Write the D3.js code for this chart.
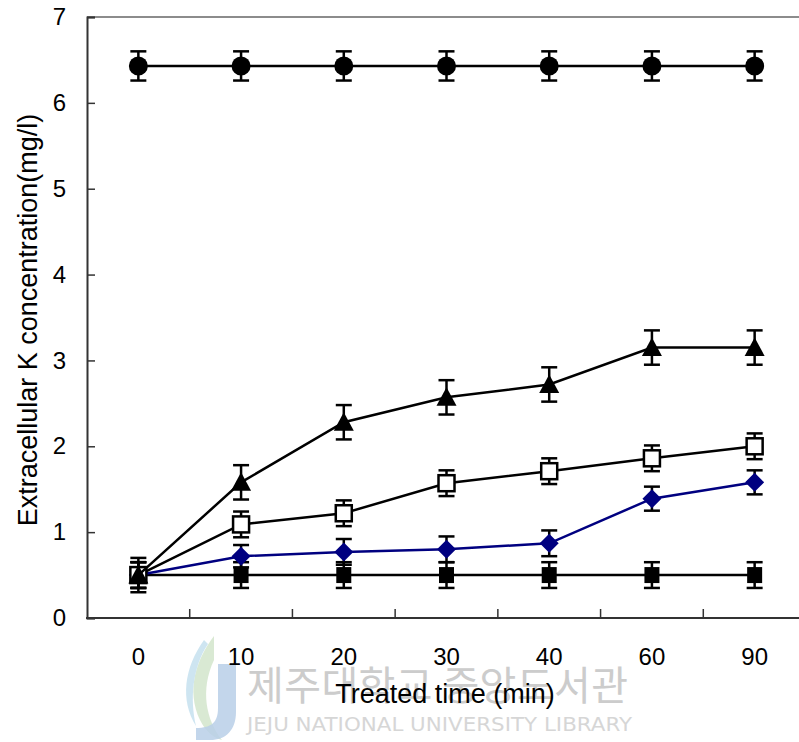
<!DOCTYPE html>
<html>
<head>
<meta charset="utf-8">
<script src="https://cdn.jsdelivr.net/npm/d3@7"></script>
<style>
  html, body { margin: 0; padding: 0; background: #fff; }
  svg { display: block; font-family: "Liberation Sans", Arial, sans-serif; }
</style>
</head>
<body>
<svg id="chart" width="799" height="742"></svg>
<script>
// ---- data ----
const times = ["0", "10", "20", "30", "40", "60", "90"];
const yTicks = [0, 1, 2, 3, 4, 5, 6, 7];

const circleVals   = [6.43, 6.43, 6.43, 6.43, 6.43, 6.43, 6.43];
const circleErr    = [0.17, 0.17, 0.17, 0.17, 0.17, 0.17, 0.17];

const triangleVals = [0.50, 1.58, 2.28, 2.57, 2.72, 3.15, 3.15];
const triangleErr  = [0.20, 0.20, 0.20, 0.20, 0.20, 0.20, 0.20];

const openSqVals   = [0.50, 1.09, 1.22, 1.57, 1.71, 1.86, 2.00];
const openSqErr    = [0.15, 0.15, 0.15, 0.15, 0.15, 0.15, 0.15];

const diamondVals  = [0.50, 0.72, 0.77, 0.80, 0.87, 1.39, 1.58];
const diamondErr   = [0.15, 0.13, 0.15, 0.15, 0.15, 0.14, 0.14];

const squareVals   = [0.50, 0.50, 0.50, 0.50, 0.50, 0.50, 0.50];
const squareErr    = [0.15, 0.15, 0.15, 0.15, 0.15, 0.15, 0.15];

const seriesList = [
  { name: "circle",   vals: circleVals,   err: circleErr,   line: "#000", marker: "circle" },
  { name: "square",   vals: squareVals,   err: squareErr,   line: "#000", marker: "square" },
  { name: "diamond",  vals: diamondVals,  err: diamondErr,  line: "#000080", marker: "diamond" },
  { name: "openSq",   vals: openSqVals,   err: openSqErr,   line: "#000", marker: "openSquare" },
  { name: "triangle", vals: triangleVals, err: triangleErr, line: "#000", marker: "triangle" }
];

// ---- layout ----
const svg = d3.select("#chart");
const mLeft = 87, mTop = 17, mBottom = 618, rightEnd = 806, visRight = 799;

const x = d3.scaleBand().domain(times).range([mLeft, rightEnd]).padding(0);
const y = d3.scaleLinear().domain([0, 7]).range([mBottom, mTop]);
const cx = t => x(t) + x.bandwidth() / 2;

// ---- watermark (faint) ----
const wm = svg.append("g").attr("class", "watermark");
wm.append("path")
  .attr("d", "M214,636 C196,660 186,690 200,720 C206,732 214,738 222,740 C206,720 200,690 214,660 Z")
  .attr("fill", "#cfe3c8").attr("opacity", 0.8);
wm.append("path")
  .attr("d", "M204,640 C184,668 180,700 196,726 C190,700 192,668 208,644 Z")
  .attr("fill", "#c9e2f0").attr("opacity", 0.9);
wm.append("path")
  .attr("d", "M218,664 L236,664 L236,712 C236,730 226,740 210,740 L196,740 L196,728 C212,728 218,722 218,708 Z")
  .attr("fill", "#b9cfe8").attr("opacity", 0.85);
wm.append("text")
  .attr("x", 247).attr("y", 700)
  .attr("font-family", "'Noto Sans CJK KR', sans-serif")
  .attr("font-size", 40).attr("fill", "#cccccc")
  .attr("textLength", 381).attr("lengthAdjust", "spacing")
  .text("제주대학교 중앙도서관");
wm.append("text")
  .attr("x", 247).attr("y", 731)
  .attr("font-family", "'DejaVu Sans', sans-serif")
  .attr("font-size", 19).attr("fill", "#d6d6d6")
  .attr("textLength", 385).attr("lengthAdjust", "spacingAndGlyphs")
  .text("JEJU NATIONAL UNIVERSITY  LIBRARY");

// ---- frame / axes ----
svg.append("line").attr("x1", mLeft).attr("x2", visRight).attr("y1", mTop).attr("y2", mTop)
  .attr("stroke", "#8c8c8c").attr("stroke-width", 2);

const yAxis = d3.axisLeft(y).tickValues(yTicks).tickSize(-8).tickPadding(21).tickFormat(d3.format("d"));
const gy = svg.append("g").attr("transform", `translate(${mLeft},0)`).call(yAxis);
gy.select(".domain").attr("stroke", "#333").attr("stroke-width", 2);
gy.selectAll(".tick line").attr("stroke", "#333").attr("stroke-width", 1.5);
gy.selectAll(".tick text").attr("font-size", 24).attr("fill", "#000")
  .attr("font-family", "'Liberation Sans', Arial, sans-serif");

const xAxis = d3.axisBottom(x).tickSize(0).tickPadding(30);
const gx = svg.append("g").attr("transform", `translate(0,${mBottom})`).call(xAxis);
gx.select(".domain").remove();
gx.selectAll(".tick text").attr("font-size", 24).attr("fill", "#000")
  .attr("font-family", "'Liberation Sans', Arial, sans-serif");
svg.append("line").attr("x1", mLeft - 1).attr("x2", visRight).attr("y1", mBottom).attr("y2", mBottom)
  .attr("stroke", "#333").attr("stroke-width", 2);
// x tick marks at category boundaries (inward)
svg.append("g").selectAll("line").data(times.slice(1)).join("line")
  .attr("x1", d => x(d)).attr("x2", d => x(d))
  .attr("y1", mBottom).attr("y2", mBottom - 9)
  .attr("stroke", "#333").attr("stroke-width", 1.5);

// ---- titles ----
svg.append("text")
  .attr("x", 445).attr("y", 703).attr("text-anchor", "middle")
  .attr("font-size", 27).attr("fill", "#000")
  .text("Treated time (min)");
svg.append("text")
  .attr("transform", "translate(37,320) rotate(-90)")
  .attr("text-anchor", "middle")
  .attr("font-size", 27).attr("fill", "#000")
  .text("Extracellular K concentration(mg/l)");

// ---- series ----
const lineGen = d3.line().x((d, i) => cx(times[i])).y(d => y(d));
const capW = 8;

seriesList.forEach(s => {
  const g = svg.append("g").attr("class", "series-" + s.name);
  const pts = s.vals.map((v, i) => ({ t: times[i], v, e: s.err[i] }));
  // error bars
  const eb = g.append("g").selectAll("g").data(pts).join("g");
  eb.append("line")
    .attr("x1", d => cx(d.t)).attr("x2", d => cx(d.t))
    .attr("y1", d => y(d.v + d.e)).attr("y2", d => y(d.v - d.e))
    .attr("stroke", "#000").attr("stroke-width", 2.5);
  [1, -1].forEach(sg => {
    eb.append("line")
      .attr("x1", d => cx(d.t) - capW).attr("x2", d => cx(d.t) + capW)
      .attr("y1", d => y(d.v + sg * d.e)).attr("y2", d => y(d.v + sg * d.e))
      .attr("stroke", "#000").attr("stroke-width", 2.5);
  });
  // line
  g.append("path").datum(s.vals)
    .attr("d", lineGen).attr("fill", "none")
    .attr("stroke", s.line).attr("stroke-width", 2.5);
  // markers
  const m = g.append("g").selectAll("g").data(pts).join("g")
    .attr("transform", d => `translate(${cx(d.t)},${y(d.v)})`);
  if (s.marker === "circle") {
    m.append("circle").attr("r", 9.5).attr("fill", "#000");
  } else if (s.marker === "square") {
    m.append("rect").attr("x", -7.5).attr("y", -8).attr("width", 15).attr("height", 16).attr("fill", "#000");
  } else if (s.marker === "openSquare") {
    m.append("rect").attr("x", -8).attr("y", -8).attr("width", 16).attr("height", 16)
      .attr("fill", "#fff").attr("stroke", "#000").attr("stroke-width", 2.5);
  } else if (s.marker === "diamond") {
    m.append("path").attr("d", "M0,-9.5 L9.5,0 L0,9.5 L-9.5,0 Z").attr("fill", "#000080");
  } else if (s.marker === "triangle") {
    m.append("path").attr("d", "M0,-10 L10,8.5 L-10,8.5 Z").attr("fill", "#000");
  }
});
</script>
</body>
</html>
